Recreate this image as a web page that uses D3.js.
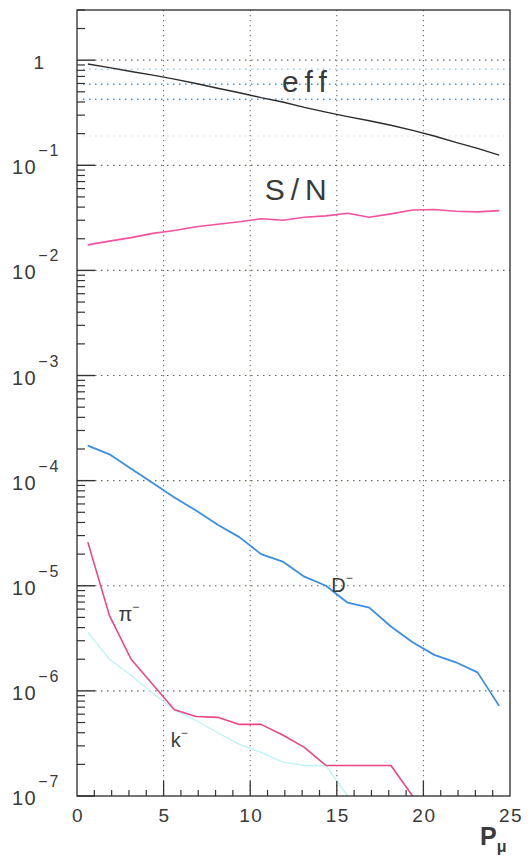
<!DOCTYPE html>
<html lang="en">
<head>
<meta charset="UTF-8">
<title>eff, S/N and misidentification vs P_mu</title>
<style>
  body { margin: 0; background: #fff; }
  svg { display: block; }
  text { font-family: "Liberation Sans", Arial, sans-serif; fill: #3a3a3a; }
</style>
<script src="https://d3js.org/d3.v7.min.js"></script>
</head>
<body>
<div id="chart"></div>
<script>
// momentum bin centres (GeV)
const pBins = [0.625, 1.875, 3.125, 4.375, 5.625, 6.875, 8.125, 9.375, 10.625, 11.875,
               13.125, 14.375, 15.625, 16.875, 18.125, 19.375, 20.625, 21.875, 23.125, 24.375];

const effValues = [0.92, 0.85, 0.78, 0.72, 0.66, 0.60, 0.54, 0.49, 0.44, 0.40,
                   0.355, 0.32, 0.29, 0.265, 0.24, 0.215, 0.19, 0.165, 0.145, 0.125];
const snValues = [0.0175, 0.0190, 0.0205, 0.0225, 0.0240, 0.0260, 0.0275, 0.0290, 0.0310, 0.0300,
                  0.0320, 0.0330, 0.0350, 0.0320, 0.0345, 0.0375, 0.0380, 0.0365, 0.0360, 0.0370];
const dValues = [2.15e-4, 1.78e-4, 1.3e-4, 9.5e-5, 6.9e-5, 5.2e-5, 3.8e-5, 2.9e-5, 2.0e-5, 1.7e-5,
                 1.22e-5, 1.0e-5, 6.9e-6, 6.2e-6, 4.1e-6, 2.9e-6, 2.2e-6, 1.87e-6, 1.5e-6, 7.2e-7];
const piValues = [2.6e-5, 5.2e-6, 2.0e-6, 1.15e-6, 6.6e-7, 5.7e-7, 5.6e-7, 4.8e-7, 4.8e-7, 3.8e-7,
                  2.9e-7, 1.95e-7, 1.95e-7, 1.95e-7, 1.95e-7, 1.0e-7, 4e-8];
const kValues = [3.6e-6, 2.0e-6, 1.4e-6, 9.5e-7, 6.6e-7, 5.2e-7, 4.0e-7, 3.1e-7, 2.6e-7, 2.1e-7,
                 1.95e-7, 1.95e-7, 1.0e-7, 5e-8];

// horizontal dotted reference levels
const refLevels = [0.82, 0.59, 0.425, 0.19];
const refColors = ["#8fd0f4", "#3d9be9", "#3d9be9", "#cdeef8"];

const xTicks = [0, 5, 10, 15, 20, 25];
const yDecades = [-7, -6, -5, -4, -3, -2, -1, 0];

const labels = [
  {text: "eff", sup: "", x: 13.3, y: 0.5, size: 30, spacing: 6},
  {text: "S/N", sup: "", x: 12.8, y: 0.0464, size: 30, spacing: 6},
  {text: "D", sup: "\u2212", x: 15.3, y: 8.7e-6, size: 20, spacing: 0},
  {text: "\u03c0", sup: "\u2212", x: 3.0, y: 4.6e-6, size: 20, spacing: 0},
  {text: "k", sup: "\u2212", x: 5.9, y: 2.9e-7, size: 20, spacing: 0}
];

const width = 531, height = 860;
const mLeft = 77, mRight = 510, mTop = 10, mBottom = 796;

const svg = d3.select("#chart").append("svg")
  .attr("width", width)
  .attr("height", height);

const x = d3.scaleLinear().domain([0, 25]).range([mLeft, mRight]);
const y = d3.scaleLog().domain([1e-7, 3]).range([mBottom, mTop]);

svg.append("clipPath").attr("id", "plot")
  .append("rect")
  .attr("x", mLeft).attr("y", mTop)
  .attr("width", mRight - mLeft).attr("height", mBottom - mTop);

// grid
const grid = svg.append("g");
grid.selectAll(".vgrid")
  .data(xTicks.filter(d => d > 0 && d < 25))
  .enter().append("line")
  .attr("x1", d => x(d)).attr("x2", d => x(d))
  .attr("y1", mTop).attr("y2", mBottom)
  .attr("stroke", "#6f6a55").attr("stroke-width", 1.1)
  .attr("stroke-dasharray", "1.3,3.7");
grid.selectAll(".hgrid")
  .data(yDecades.filter(d => d > -7))
  .enter().append("line")
  .attr("x1", mLeft + 18).attr("x2", mRight)
  .attr("y1", d => y(Math.pow(10, d))).attr("y2", d => y(Math.pow(10, d)))
  .attr("stroke", "#6f6a55").attr("stroke-width", 1.2)
  .attr("stroke-dasharray", "1.5,4.5");

grid.selectAll(".ref")
  .data(refLevels)
  .enter().append("line")
  .attr("x1", mLeft + 6).attr("x2", mRight)
  .attr("y1", d => y(d)).attr("y2", d => y(d))
  .attr("stroke", (d, i) => refColors[i]).attr("stroke-width", 1.5)
  .attr("stroke-dasharray", "1.5,4.5");

// curves
const curves = [
  {values: kValues, color: "#bdf3f3", w: 1.3},
  {values: piValues, color: "#eb4585", w: 1.6},
  {values: dValues, color: "#3a8ee6", w: 1.8},
  {values: snValues, color: "#f2529e", w: 1.6},
  {values: effValues, color: "#2c2c2c", w: 1.4}
];
const line = d3.line().x(d => x(d[0])).y(d => y(d[1]));
svg.append("g").attr("clip-path", "url(#plot)")
  .selectAll("path")
  .data(curves)
  .enter().append("path")
  .attr("d", c => line(c.values.map((v, i) => [pBins[i], v])))
  .attr("fill", "none")
  .attr("stroke", c => c.color)
  .attr("stroke-width", c => c.w)
  .attr("stroke-linejoin", "round");

// axes ticks
const axes = svg.append("g").attr("stroke", "#333");
const minorY = [];
yDecades.forEach(d => {
  if (d < 0) for (let m = 2; m <= 9; m++) minorY.push(m * Math.pow(10, d));
});
minorY.push(2, 3);
axes.selectAll(".ymin").data(minorY).enter().append("line")
  .attr("x1", mLeft).attr("x2", mLeft + 8)
  .attr("y1", d => y(d)).attr("y2", d => y(d))
  .attr("stroke-width", 1.2);
axes.selectAll(".ymaj").data(yDecades).enter().append("line")
  .attr("x1", mLeft).attr("x2", mLeft + 18)
  .attr("y1", d => y(Math.pow(10, d))).attr("y2", d => y(Math.pow(10, d)))
  .attr("stroke-width", 1.4);

const minorX = d3.range(1, 25).filter(d => d % 5 !== 0);
axes.selectAll(".xmin").data(minorX).enter().append("line")
  .attr("x1", d => x(d)).attr("x2", d => x(d))
  .attr("y1", mBottom).attr("y2", mBottom - 6)
  .attr("stroke-width", 1.2);
axes.selectAll(".xmaj").data(xTicks.filter(d => d > 0 && d < 25)).enter().append("line")
  .attr("x1", d => x(d)).attr("x2", d => x(d))
  .attr("y1", mBottom).attr("y2", mBottom - 15)
  .attr("stroke-width", 1.3);

// frame
svg.append("rect")
  .attr("x", mLeft).attr("y", mTop)
  .attr("width", mRight - mLeft).attr("height", mBottom - mTop)
  .attr("fill", "none").attr("stroke", "#2a2a2a").attr("stroke-width", 1.3);

// x tick labels
svg.selectAll(".xlab").data(xTicks).enter().append("text")
  .attr("x", d => x(d) + 1).attr("y", mBottom + 26)
  .attr("text-anchor", "middle")
  .attr("font-size", 19)
  .attr("letter-spacing", 1.5)
  .text(d => d);

// y tick labels
yDecades.forEach(d => {
  const ty = y(Math.pow(10, d));
  if (d === 0) {
    svg.append("text").attr("x", 44).attr("y", ty + 9)
      .attr("text-anchor", "end").attr("font-size", 19).text("1");
    return;
  }
  const t = svg.append("text").attr("x", 12).attr("y", ty + 9)
    .attr("font-size", 20).attr("letter-spacing", 1.5);
  t.append("tspan").text("10");
  t.append("tspan").attr("dy", -18).attr("font-size", 16).attr("dx", 1)
    .attr("letter-spacing", 2).text("\u2212" + (-d));
});

// axis title
const title = svg.append("text").attr("x", 480).attr("y", 845)
  .attr("font-size", 25).attr("font-weight", "bold").attr("fill", "#111");
title.append("tspan").text("P");
title.append("tspan").attr("dy", 7).attr("font-size", 16).text("\u03bc");

// curve labels
labels.forEach(l => {
  const t = svg.append("text")
    .attr("x", x(l.x)).attr("y", y(l.y))
    .attr("text-anchor", "middle")
    .attr("font-size", l.size)
    .attr("letter-spacing", l.spacing)
    .attr("fill", "#333")
    .text(l.text);
  if (l.sup) t.append("tspan").attr("dy", -10).attr("font-size", 12).text(l.sup);
});
</script>
</body>
</html>
